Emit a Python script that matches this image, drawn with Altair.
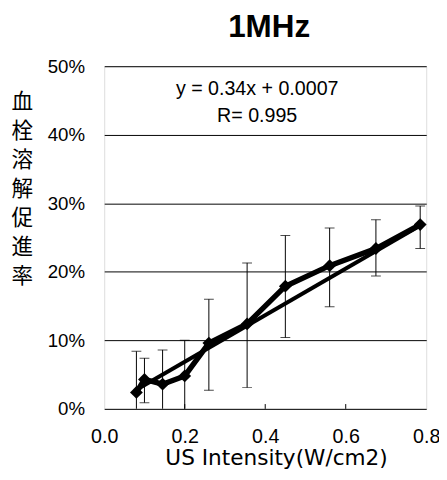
import altair as alt
import pandas as pd

# data
x_vals = [0.08, 0.10, 0.145, 0.20, 0.26, 0.355, 0.45, 0.56, 0.675, 0.785]
y_vals = [0.024, 0.043, 0.036, 0.048, 0.096, 0.124, 0.179, 0.209, 0.234, 0.269]
err_hi = [0.084, 0.074, 0.086, 0.100, 0.160, 0.213, 0.253, 0.264, 0.276, 0.296]
err_lo = [-0.036, 0.009, -0.014, -0.004, 0.027, 0.031, 0.104, 0.149, 0.194, 0.234]

slope = 0.34
intercept = 0.0007
trend_x = [0.08, 0.785]
tick_x = [0.2, 0.4, 0.6]
y_ticks = [0.0, 0.1, 0.2, 0.3, 0.4, 0.5]
x_ticks = [0.0, 0.2, 0.4, 0.6, 0.8]
eq_lines = ["y = 0.34x + 0.0007", "R= 0.995"]
eq_y = [0.467, 0.427]
y_title = ["血", "栓", "溶", "解", "促", "進", "率"]

df = pd.DataFrame({"x": x_vals, "y": y_vals, "hi": err_hi, "lo": err_lo})
trend = pd.DataFrame({"x": trend_x, "y": [slope * v + intercept for v in trend_x]})
ticks = pd.DataFrame({"x": tick_x, "y0": [0.0] * len(tick_x), "y1": [0.007] * len(tick_x)})
eq = pd.DataFrame({"x": [0.38, 0.38], "y": eq_y, "t": eq_lines})

FONT = "Liberation Sans"

xs = alt.Scale(domain=[0, 0.8], nice=False)
ys = alt.Scale(domain=[0, 0.5], nice=False)

xenc = alt.X("x:Q", scale=xs, axis=alt.Axis(
    values=x_ticks, format=".1f", title="US Intensity(W/cm2)", grid=False,
    ticks=False, domain=False, labelFontSize=20, labelFont=FONT, labelColor="black",
    labelPadding=18, titleFont="DejaVu Sans", titleFontSize=22, titleFontWeight="normal",
    titleColor="black", titlePadding=2, labelFlush=False, titleX=175, titleAlign="center"))
yenc = alt.Y("y:Q", scale=ys, axis=alt.Axis(
    values=y_ticks, format=".0%", title=y_title, grid=True, gridColor="black",
    gridWidth=1, gridOpacity=1, ticks=False, domain=False, labelFontSize=19,
    labelFont=FONT, labelColor="black", labelPadding=20, titleAngle=0,
    titleFont="Noto Sans CJK JP", titleFontSize=22, titleFontWeight="normal",
    titleColor="black", titleLineHeight=29.5, titleX=-84, titleY=26,
    titleAlign="center", titleBaseline="top"))

base = alt.Chart(df)

bars = base.mark_rule(color="black", strokeWidth=1, clip=True).encode(
    x=alt.X("x:Q", scale=xs), y=alt.Y("lo:Q", scale=ys), y2="hi:Q")
cap_hi = base.mark_tick(color="black", orient="horizontal", size=10, thickness=1,
                        clip=True).encode(x=alt.X("x:Q", scale=xs), y=alt.Y("hi:Q", scale=ys))
cap_lo = base.mark_tick(color="black", orient="horizontal", size=10, thickness=1,
                        clip=True).encode(x=alt.X("x:Q", scale=xs), y=alt.Y("lo:Q", scale=ys))

trend_line = alt.Chart(trend).mark_line(color="black", strokeWidth=4).encode(
    x=alt.X("x:Q", scale=xs), y=alt.Y("y:Q", scale=ys))

data_line = base.mark_line(color="black", strokeWidth=5.5).encode(x=xenc, y=yenc)
pts = base.mark_point(shape="diamond", filled=True, color="black", size=170,
                      opacity=1).encode(x=alt.X("x:Q", scale=xs), y=alt.Y("y:Q", scale=ys))

tick_rules = alt.Chart(ticks).mark_rule(color="black", strokeWidth=1).encode(
    x=alt.X("x:Q", scale=xs), y=alt.Y("y0:Q", scale=ys), y2="y1:Q")

eq_text = alt.Chart(eq).mark_text(font=FONT, fontSize=20, color="black").encode(
    x=alt.X("x:Q", scale=xs), y=alt.Y("y:Q", scale=ys), text="t:N")

chart = alt.layer(data_line, bars, cap_hi, cap_lo, trend_line, pts, tick_rules, eq_text).properties(
    width=328, height=349,
    title=alt.TitleParams("1MHz", fontSize=32, font=FONT, fontWeight="bold", color="black",
                          anchor="middle", offset=14, dx=4),
    autosize=alt.AutoSizeParams(type="none"),
    padding={"left": 98, "top": 55, "right": 13, "bottom": 60},
).configure_view(stroke="black", strokeWidth=2).configure(background="white")

chart.save("out.html", embed_options={"renderer": "svg", "actions": False})
